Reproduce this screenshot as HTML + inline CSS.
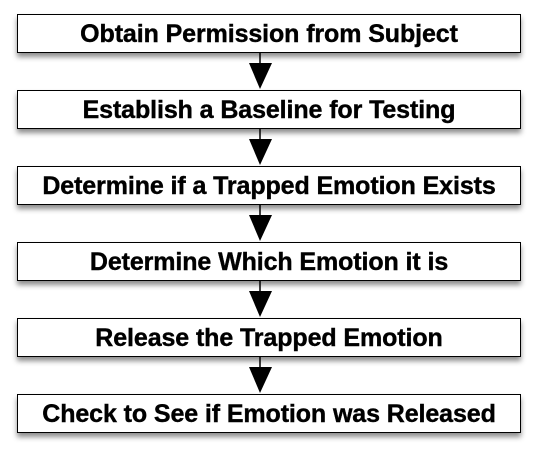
<!DOCTYPE html>
<html><head><style>
body{margin:0;width:542px;height:449px;background:#fff;position:relative;overflow:hidden;font-family:"Liberation Sans",Arial,sans-serif;}
.b{position:absolute;left:17px;width:502px;height:37px;border:1.5px solid #000;background:#fff;box-shadow:0 4px 5px rgba(0,0,0,0.45);font-weight:bold;font-size:25px;line-height:38px;text-align:center;letter-spacing:-0.1px;white-space:nowrap;-webkit-text-stroke:0.4px #000;}
svg{position:absolute;left:0;top:0}
</style></head><body>
<svg width="542" height="449">
<g fill="#000" stroke="#000" stroke-width="1.5">
<line x1="260" y1="53" x2="260" y2="64"/><polygon points="249,63 272,63 260,89" stroke="none"/>
<line x1="260" y1="129" x2="260" y2="140"/><polygon points="249,139 272,139 260,165" stroke="none"/>
<line x1="260" y1="205" x2="260" y2="216"/><polygon points="249,215 272,215 260,241" stroke="none"/>
<line x1="260" y1="281" x2="260" y2="292"/><polygon points="249,291 272,291 260,317" stroke="none"/>
<line x1="260" y1="357" x2="260" y2="368"/><polygon points="249,367 272,367 260,393" stroke="none"/>
</g></svg>
<div class="b" style="top:14px">Obtain Permission from Subject</div>
<div class="b" style="top:90px">Establish a Baseline for Testing</div>
<div class="b" style="top:166px">Determine if a Trapped Emotion Exists</div>
<div class="b" style="top:242px">Determine Which Emotion it is</div>
<div class="b" style="top:318px">Release the Trapped Emotion</div>
<div class="b" style="top:394px">Check to See if Emotion was Released</div>
</body></html>
